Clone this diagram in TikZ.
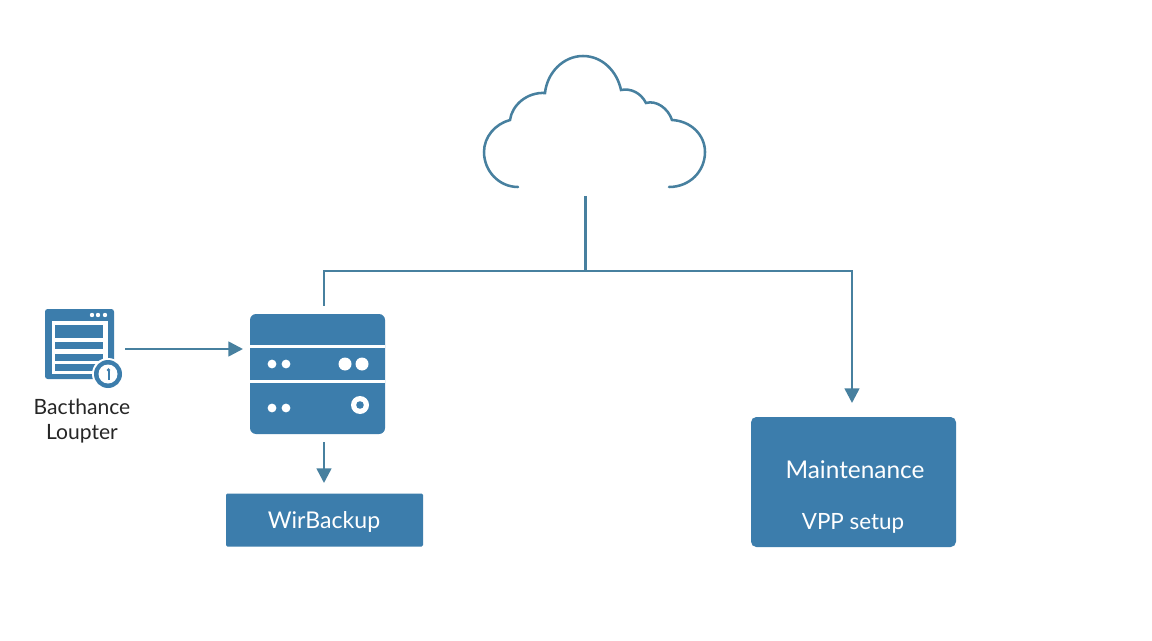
\documentclass[tikz,border=0pt]{standalone}
\usepackage{fontspec}
\setmainfont{Lato}
\usetikzlibrary{arrows.meta}
\definecolor{boxblue}{HTML}{3C7DAC}
\definecolor{lineblue}{HTML}{47809F}
\tikzset{>={Triangle[length=11pt,width=11pt]}}
\tikzset{
	wire/.style={draw=lineblue,line width=1.9pt},
	bluebox/.style={fill=boxblue,inner sep=0pt},
	boxtext/.style={text=white,inner sep=0pt},
	caption/.style={text=black!85,inner sep=0pt,font=\fontsize{15.8}{18}\selectfont},
}

\begin{document}
\begin{tikzpicture}[x=0.75pt,y=0.75pt]
	\useasboundingbox (0,0) rectangle (1152,640);
	\fill[white] (0,0) rectangle (1152,640);

	% cloud
	\draw[wire,line cap=round] (518,453) .. controls (499,453) and (484,469) .. (484,488)
		.. controls (484,503) and (495,516) .. (510,520)
		.. controls (512,535) and (527,548) .. (545,547)
		.. controls (547,567) and (563,584) .. (583,584)
		.. controls (602,584) and (617,569) .. (621,550)
		.. controls (631,552) and (641,547) .. (646,537)
		.. controls (656,540) and (668,532) .. (672,520)
		.. controls (691,519) and (705,505) .. (705,488)
		.. controls (705,469) and (690,453) .. (669,453);
	\coordinate (cloudfoot) at (585.5,444);
	\coordinate (branch) at (585.5,369);

	% window icon
	\fill[boxblue,rounded corners=2pt] (45,331) rectangle (114,261);
	\fill[white] (52,319) rectangle (108,266);
	\fill[boxblue] (55,315) rectangle (103,302);
	\fill[boxblue] (55,298) rectangle (103,291);
	\fill[boxblue] (55,286) rectangle (103,279);
	\fill[boxblue] (55,276) rectangle (103,269);
	\foreach \x in {92,98,105} \fill[white] (\x,325) circle (2.2);
	\fill[white] (108,266) circle (16);
	\fill[boxblue] (108,266) circle (14);
	\fill[white] (108,266) circle (9.5);
	\fill[boxblue] (108.5,270) circle (1.8);
	\fill[boxblue] (107.5,260) rectangle (109.5,269);
	\node[caption] (iconlabela) at (82,233) {Bacthance};
	\node[caption] (iconlabelb) at (82,206) {Loupter};
	\coordinate (iconout) at (125,291);

	% server
	\node[bluebox,rounded corners=4.5pt,minimum width=101.25pt,minimum height=90pt] (server) at (317.5,266) {};
	\fill[white] (250,295) rectangle (385,292);
	\fill[white] (250,260.5) rectangle (385,257.5);
	\foreach \x in {272,286} {
		\fill[white] (\x,276) circle (4.4);
		\fill[white] (\x,232) circle (4.4);
	}
	\fill[white] (345,276) circle (6.5);
	\fill[white] (362,276) circle (6.5);
	\fill[white] (360,235) circle (9);
	\fill[boxblue] (360,235) circle (3.8);
	\coordinate (servertop) at (324,334);
	\coordinate (serverin) at (243,291);
	\coordinate (serverfoot) at (324,198);

	% boxes
	\node[bluebox,rounded corners=1pt,minimum width=147.75pt,minimum height=39.75pt] (backup) at (324.5,120) {};
	\node[boxtext,font=\fontsize{17.3}{20}\selectfont] (backuptext) at (324,118) {WirBackup};
	\node[bluebox,rounded corners=4pt,minimum width=153.75pt,minimum height=97.5pt] (maint) at (853.5,158) {};
	\node[boxtext,font=\fontsize{18.3}{20}\selectfont] (mainta) at (855,170) {Maintenance};
	\node[boxtext,font=\fontsize{16.8}{20}\selectfont] (maintb) at (853,117) {VPP setup};
	\coordinate (backupin) at (324,157);
	\coordinate (maintin) at (852,237);

	% connectors
	\draw[wire] (cloudfoot) -- (branch);
	\draw[wire] (branch) -| (servertop);
	\draw[wire,->] (branch) -| (maintin);
	\draw[wire,->] (iconout) -- (serverin);
	\draw[wire,->] (serverfoot) -- (backupin);
\end{tikzpicture}
\end{document}
